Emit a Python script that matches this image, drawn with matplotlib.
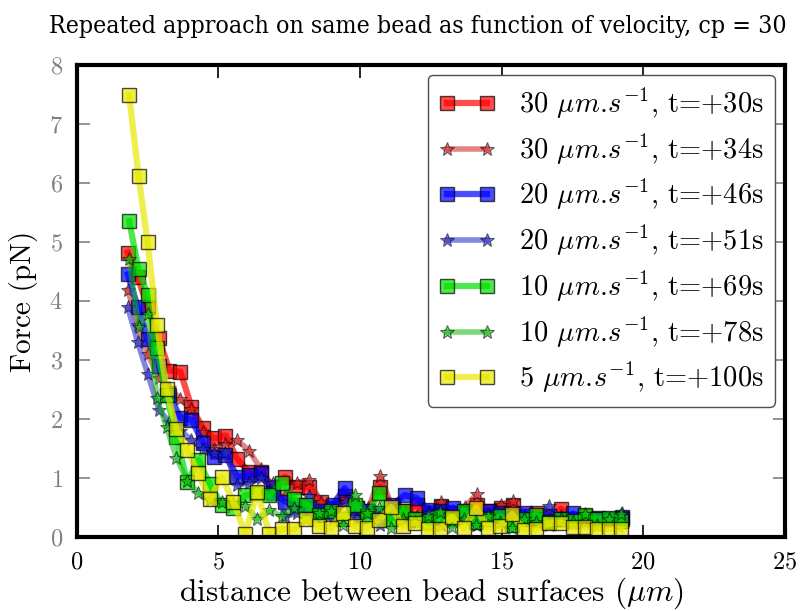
import matplotlib
matplotlib.use("Agg")
from matplotlib import pyplot as plt

plt.rcParams["font.family"] = ["cmr10", "DejaVu Serif"]
plt.rcParams["mathtext.fontset"] = "cm"
plt.rcParams["axes.formatter.use_mathtext"] = True

# distance between bead surfaces (um), two sampling grids
dist_a = [1.85, 2.18, 2.50, 2.83, 3.17, 3.52, 3.90, 4.29, 4.70, 5.11, 5.53, 5.95, 6.37, 6.80,
          7.24, 7.67, 8.10, 8.54, 8.97, 9.39, 9.82, 10.25, 10.67, 11.10, 11.53, 11.95, 12.39,
          12.82, 13.24, 13.67, 14.10, 14.53, 14.96, 15.38, 15.80, 16.23, 16.66, 17.09, 17.52,
          17.95, 18.38, 18.80, 19.22]
dist_b = [1.80, 2.15, 2.50, 2.90, 3.27, 3.66, 4.05, 4.45, 4.84, 5.25, 5.67, 6.09, 6.50, 6.92,
          7.35, 7.77, 8.20, 8.62, 9.04, 9.46, 9.88, 10.30, 10.72, 11.15, 11.58, 12.00, 12.42,
          12.85, 13.28, 13.70, 14.12, 14.55, 14.98, 15.40, 15.83, 16.25, 16.68, 17.10, 17.53,
          17.96, 18.39, 18.82, 19.24]

# force (pN)
red_sq = [4.82, 4.40, 3.90, 3.37, 2.82, 2.80, 2.20, 1.85, 1.67, 1.72, 1.32, 1.10, 1.11, 0.85,
          1.02, 0.85, 0.85, 0.60, 0.50, 0.70, 0.50, 0.45, 0.85, 0.50, 0.45, 0.55, 0.40, 0.52,
          0.40, 0.45, 0.55, 0.45, 0.50, 0.55, 0.35, 0.40, 0.35, 0.48, 0.30, 0.35, 0.30, 0.30, 0.30]
red_st = [4.19, 3.60, 3.10, 2.70, 2.52, 2.34, 2.17, 1.78, 1.50, 1.58, 1.64, 1.46, 1.15, 0.85,
          0.70, 0.92, 0.97, 0.60, 0.50, 0.65, 0.45, 0.50, 1.04, 0.50, 0.40, 0.35, 0.45, 0.60,
          0.40, 0.51, 0.73, 0.37, 0.55, 0.61, 0.35, 0.30, 0.30, 0.35, 0.30, 0.25, 0.30, 0.25, 0.30]
blue_sq = [4.45, 3.90, 3.35, 2.90, 2.40, 2.02, 1.99, 1.60, 1.36, 1.39, 1.02, 1.05, 1.08, 0.74,
           0.60, 0.55, 0.50, 0.45, 0.55, 0.83, 0.50, 0.45, 0.40, 0.55, 0.71, 0.66, 0.46, 0.45,
           0.50, 0.40, 0.35, 0.45, 0.40, 0.35, 0.40, 0.30, 0.35, 0.30, 0.40, 0.30, 0.32, 0.30, 0.34]
blue_st = [3.89, 3.30, 2.77, 2.16, 1.95, 1.80, 1.65, 1.50, 1.42, 1.42, 0.88, 0.92, 1.00, 0.91,
           0.35, 0.40, 0.70, 0.35, 0.30, 0.60, 0.30, 0.40, 0.20, 0.35, 0.30, 0.25, 0.40, 0.20,
           0.35, 0.30, 0.20, 0.35, 0.25, 0.30, 0.32, 0.25, 0.53, 0.30, 0.25, 0.30, 0.25, 0.30, 0.40]
green_sq = [5.35, 4.54, 4.10, 3.20, 2.40, 1.70, 0.93, 1.31, 0.90, 0.55, 0.50, 0.71, 0.74, 0.72,
            0.91, 0.65, 0.55, 0.37, 0.45, 0.30, 0.55, 0.35, 0.75, 0.30, 0.45, 0.30, 0.25, 0.36,
            0.30, 0.45, 0.25, 0.30, 0.35, 0.20, 0.30, 0.38, 0.25, 0.30, 0.28, 0.38, 0.30, 0.32, 0.28]
green_st = [4.71, 3.56, 3.78, 2.35, 1.86, 1.34, 0.95, 0.75, 0.62, 0.60, 0.57, 0.53, 0.31, 0.46,
            0.35, 0.50, 0.30, 0.40, 0.45, 0.21, 0.72, 0.40, 0.49, 0.15, 0.30, 0.25, 0.35, 0.43,
            0.17, 0.30, 0.20, 0.35, 0.25, 0.15, 0.30, 0.25, 0.20, 0.30, 0.25, 0.39, 0.20, 0.30, 0.39]
yellow_sq = [7.48, 6.12, 4.99, 3.60, 2.50, 1.83, 1.48, 1.08, 0.64, 1.02, 0.60, 0.05, 0.77, 0.06,
             0.14, 0.13, 0.31, 0.18, 0.15, 0.40, 0.18, 0.16, 0.29, 0.51, 0.18, 0.24, 0.13, 0.14,
             0.34, 0.15, 0.50, 0.15, 0.18, 0.39, 0.12, 0.13, 0.24, 0.24, 0.17, 0.17, 0.14, 0.14, 0.13]

labels = [r"30 $\mu m.\!s^{-1}$, t=+30s", r"30 $\mu m.\!s^{-1}$, t=+34s",
          r"20 $\mu m.\!s^{-1}$, t=+46s", r"20 $\mu m.\!s^{-1}$, t=+51s",
          r"10 $\mu m.\!s^{-1}$, t=+69s", r"10 $\mu m.\!s^{-1}$, t=+78s",
          r"5 $\mu m.\!s^{-1}$, t=+100s"]

fig = plt.figure(figsize=(8, 6.11), dpi=100)
ax = fig.add_axes([0.096, 0.121, 0.885, 0.773])

sq = dict(marker="s", markersize=10, lw=4.5, alpha=0.7, markeredgecolor="k", markeredgewidth=1)
st = dict(marker="*", markersize=10, lw=4, alpha=0.55, markeredgecolor="k", markeredgewidth=0.8)

ax.plot(dist_b, red_sq, color="red", label=labels[0], **sq)
ax.plot(dist_b, red_st, color="#cc2222", label=labels[1], **st)
ax.plot(dist_b, blue_sq, color="blue", label=labels[2], **sq)
ax.plot(dist_b, blue_st, color="#2222cc", label=labels[3], **st)
ax.plot(dist_a, green_sq, color="#00e000", label=labels[4], **sq)
ax.plot(dist_a, green_st, color="#11bb11", label=labels[5], **st)
ax.plot(dist_a, yellow_sq, color="#e8e800", label=labels[6], **sq)

ax.set_xlim(0, 25)
ax.set_ylim(0, 8)
ax.set_xticks(range(0, 26, 5))
ax.set_yticks(range(0, 9))
for s in ax.spines.values():
    s.set_linewidth(3)
ax.tick_params(axis="x", direction="in", length=9, width=1.2, top=True,
               labelsize=17.5, pad=10, colors="k")
ax.tick_params(axis="y", direction="in", length=9, width=1.2, right=True,
               labelsize=17.5, pad=10, colors="gray")

ax.set_xlabel(r"distance between bead surfaces ($\mu m$)", fontsize=22.5, labelpad=2)
ax.set_ylabel("Force (pN)", fontsize=21, labelpad=8)
ax.set_title("Repeated approach on same bead as function of velocity, cp = 30",
             fontsize=17.8, family="DejaVu Serif", fontstretch="condensed", pad=23, x=0.482)

leg = ax.legend(loc="upper right", fontsize=20.5, numpoints=2, handlelength=2.0,
                borderaxespad=0.35, labelspacing=0.38, fancybox=True, framealpha=1)
leg.get_frame().set_edgecolor("0.3")
leg.get_frame().set_linewidth(1.0)

fig.savefig("out.png", dpi=100)
